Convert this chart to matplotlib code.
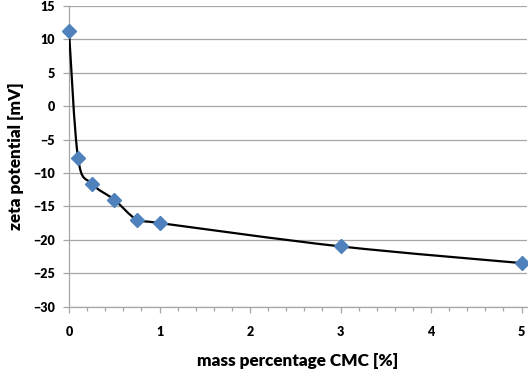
import numpy as np
import matplotlib
matplotlib.use("Agg")
import matplotlib.pyplot as plt
from matplotlib.path import Path
from matplotlib.patches import PathPatch
from matplotlib.ticker import MultipleLocator

cmc = [0, 0.1, 0.25, 0.5, 0.75, 1.0, 3.0, 5.0]
zeta = [11.2, -7.8, -11.6, -14.0, -17.0, -17.5, -21.0, -23.5]
xticks = [0, 1, 2, 3, 4, 5]
yticks = [15, 10, 5, 0, -5, -10, -15, -20, -25, -30]

plt.rcParams['font.family'] = ['Lato', 'DejaVu Sans']

fig = plt.figure(figsize=(5.28, 3.75), dpi=100)
ax = fig.add_axes([69/528, 1-306.5/375, (527-69)/528, (306.5-6)/375])

# Excel-like smoothed line (Catmull-Rom cubic Bezier)
P = np.column_stack([cmc, zeta]).astype(float)
n = len(P)
verts = [tuple(P[0])]
codes = [Path.MOVETO]
for i in range(n-1):
    p0 = P[i-1] if i > 0 else P[i]
    p1 = P[i]
    p2 = P[i+1]
    p3 = P[i+2] if i+2 < n else P[i+1]
    c1 = p1 + (p2 - p0) / 6.0
    c2 = p2 - (p3 - p1) / 6.0
    verts += [tuple(c1), tuple(c2), tuple(p2)]
    codes += [Path.CURVE4]*3
ax.add_patch(PathPatch(Path(verts, codes), facecolor='none', edgecolor='black', lw=1.6, zorder=3))

ax.plot(cmc, zeta, linestyle='none', marker='D', markersize=7.5, color='#4F81BD',
        markeredgecolor='#4F81BD', zorder=4, clip_on=False)

ax.set_xlim(0, 5.06)
ax.set_ylim(-30, 15)
ax.set_xticks(xticks)
ax.set_yticks(yticks)
ax.xaxis.set_minor_locator(MultipleLocator(0.2))
ax.grid(axis='y', color='#A6A6A6', lw=0.9)
ax.set_axisbelow(True)
for s in ['top', 'right']:
    ax.spines[s].set_visible(False)
for s in ['left', 'bottom']:
    ax.spines[s].set_color('#A6A6A6')
    ax.spines[s].set_linewidth(0.9)
ax.tick_params(axis='both', which='both', color='#A6A6A6', width=0.9)
ax.tick_params(axis='x', which='major', length=4, pad=10)
ax.tick_params(axis='x', which='minor', length=3)
ax.tick_params(axis='y', which='major', length=4, pad=6)
for lab in ax.get_xticklabels() + ax.get_yticklabels():
    lab.set_fontweight('heavy')
    lab.set_fontsize(9)
ax.set_xlabel('mass percentage CMC [%]', fontsize=12.3, fontweight='heavy', labelpad=11)
ax.set_ylabel('zeta potential [mV]', fontsize=12.3, fontweight='heavy', labelpad=7)

fig.savefig('out.png', dpi=100)
